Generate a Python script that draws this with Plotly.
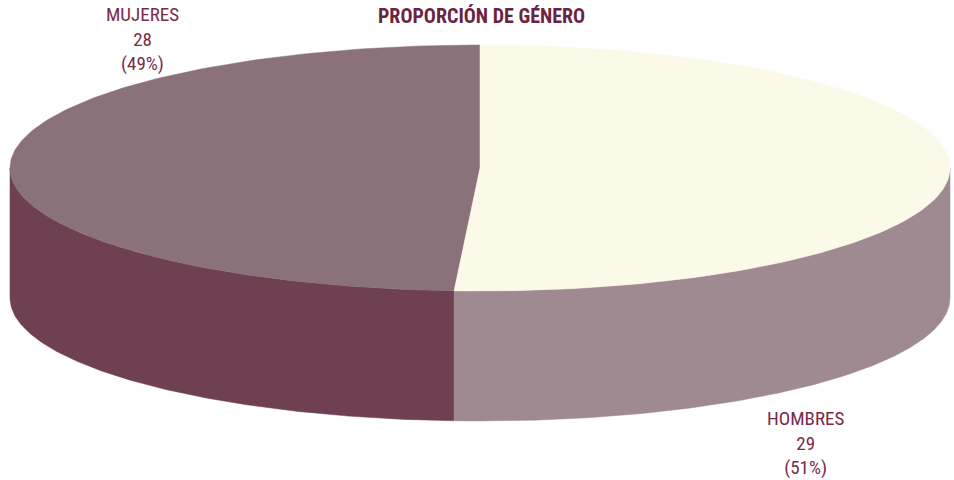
import numpy as np
import plotly.graph_objects as go

# ---- data ----
categories = ["MUJERES", "HOMBRES"]
counts = [28, 29]
percent_labels = ["49%", "51%"]
title_text = "PROPORCIÓN DE GÉNERO"

# ---- style ----
top_colors = ["#8a717a", "#fbf9e8"]
side_colors = ["#6f3f52", "#9f8a91"]
text_color = "#7a2a4a"
FONT = "Liberation Sans Narrow, Arial Narrow, Roboto Condensed, Liberation Sans, sans-serif"

cx, cy, rx, ry, depth = 480, 168, 470, 123, 130

def arc(a0, a1, dy=0, n=200):
    t = np.radians(np.linspace(a0, a1, n))
    return cx + rx * np.cos(t), cy - ry * np.sin(t) + dy

total = sum(counts)
start = 90.0
slices = []
for c in counts:
    sweep = 360.0 * c / total
    slices.append((start, start + sweep))
    start += sweep

fig = go.Figure()

# sides (only front half visible: 180..360 deg)
for (a0, a1), col in zip(slices, side_colors):
    segs = []
    for off in (0, 360):
        lo = max(a0, 180 + off)
        hi = min(a1, 360 + off)
        if hi > lo:
            segs.append((lo, hi))
    for lo, hi in segs:
        xt, yt = arc(lo, hi)
        xb, yb = arc(hi, lo, depth)
        fig.add_trace(go.Scatter(x=np.r_[xt, xb, xt[0]], y=np.r_[yt, yb, yt[0]],
                                 mode="lines", fill="toself", fillcolor=col,
                                 line=dict(width=0.5, color=col), hoverinfo="skip",
                                 showlegend=False))

# top faces
for (a0, a1), col in zip(slices, top_colors):
    xa, ya = arc(a0, a1)
    fig.add_trace(go.Scatter(x=np.r_[cx, xa, cx], y=np.r_[cy, ya, cy],
                             mode="lines", fill="toself", fillcolor=col,
                             line=dict(width=0.5, color=col), hoverinfo="skip",
                             showlegend=False))

# labels
label_pos = [(142, 1), (805, 405)]
for cat, cnt, pct, (lx, ly) in zip(categories, counts, percent_labels, label_pos):
    fig.add_annotation(x=lx, y=ly, xref="x", yref="y", yanchor="top", showarrow=False,
                       text=f"{cat}<br>{cnt}<br>({pct})", align="center",
                       font=dict(family=FONT, size=19, color=text_color))

fig.add_annotation(x=481, y=16, xref="x", yref="y", showarrow=False,
                   text=f"<b>{title_text}</b>",
                   font=dict(family=FONT, size=20, color="#6b2440"))

fig.update_layout(
    width=954, height=480, margin=dict(l=0, r=0, t=0, b=0),
    paper_bgcolor="white", plot_bgcolor="white",
    xaxis=dict(range=[0, 954], visible=False, fixedrange=True),
    yaxis=dict(range=[480, 0], visible=False, fixedrange=True),
)
fig.write_html("out.html", config={"displayModeBar": False},
               post_script="document.body.style.margin='0';")
